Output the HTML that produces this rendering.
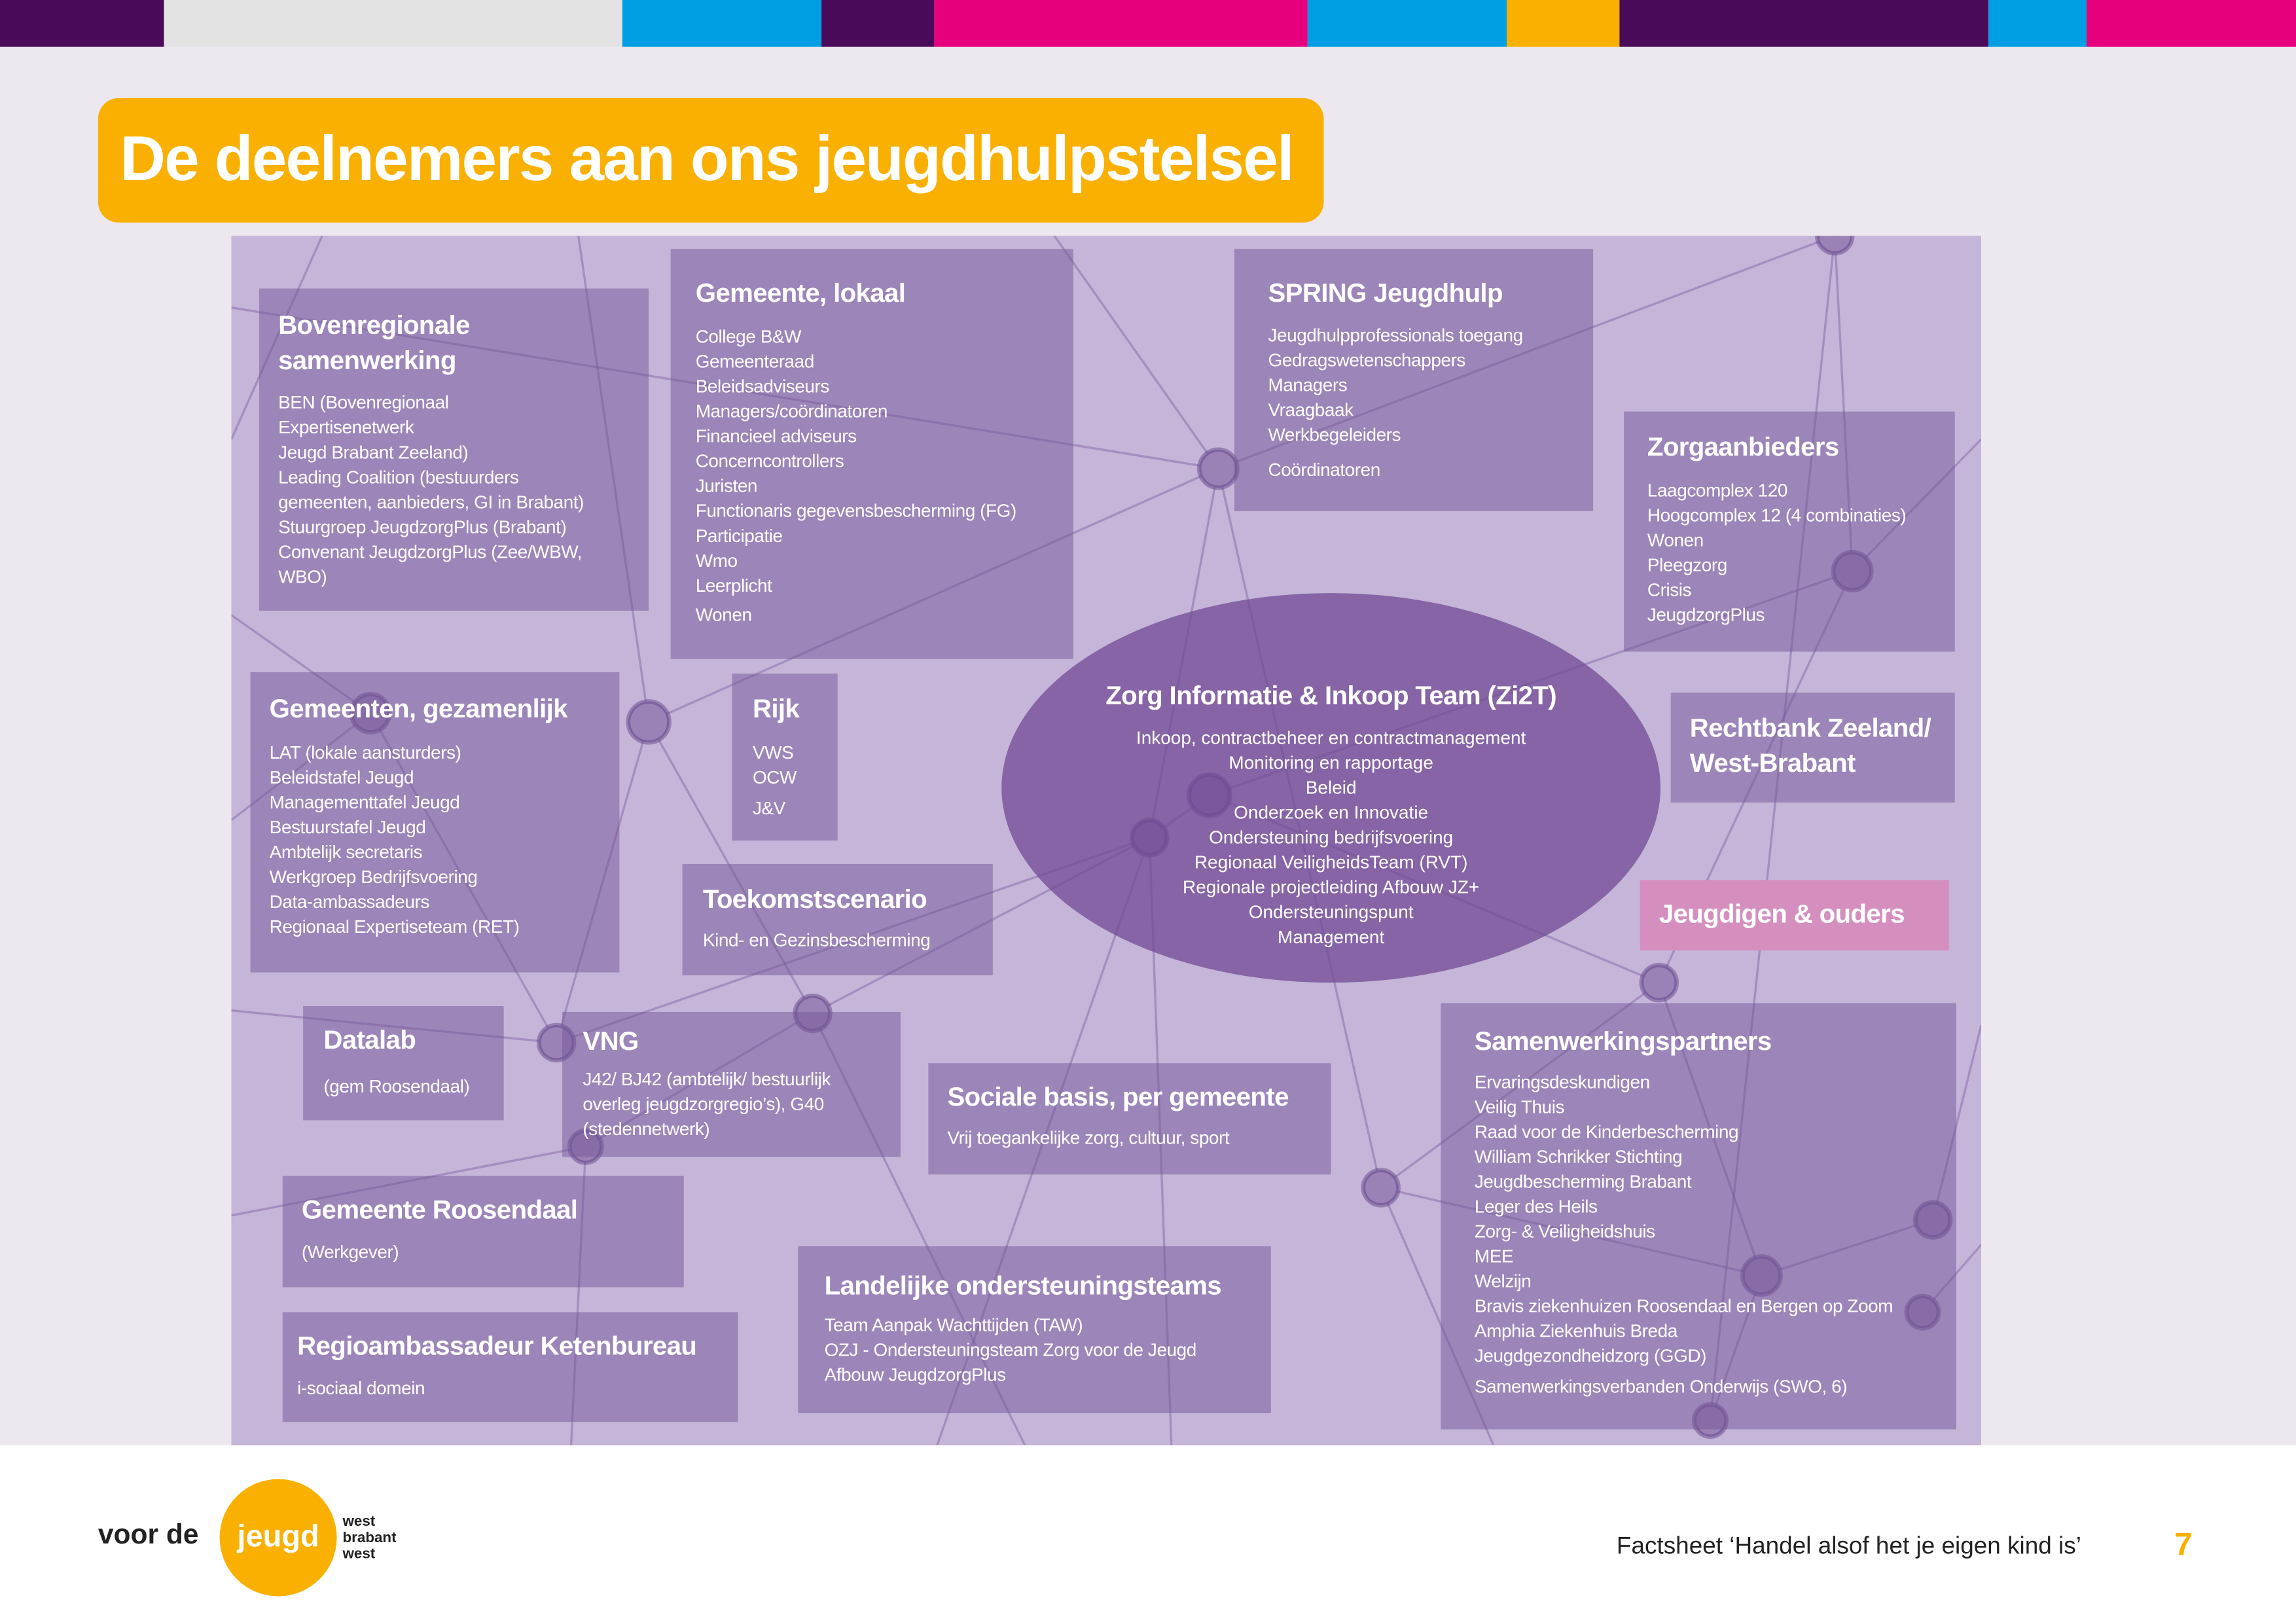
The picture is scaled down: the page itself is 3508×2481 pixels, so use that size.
<!DOCTYPE html>
<html><head><meta charset="utf-8"><style>
html,body{margin:0;padding:0;}
body{width:3508px;height:2481px;overflow:hidden;background:#ede8f0;font-family:"Liberation Sans",sans-serif;}
#w{position:absolute;left:0;top:0;width:1568px;height:1109px;transform:scale(2.23724);transform-origin:0 0;background:#ede8f0;}
.bar{position:absolute;top:0;height:32px;}
.box{position:absolute;background:rgba(115,85,152,0.5);color:#fff;box-sizing:border-box;}
.box h3{margin:0;font-size:18px;font-weight:bold;line-height:24px;letter-spacing:-0.3px;}
.box p{margin:0;font-size:12.5px;line-height:17px;letter-spacing:-0.2px;}
</style></head><body><div id="w">
<div class="bar" style="left:0;width:112px;background:#4a0a5a"></div>
<div class="bar" style="left:112px;width:313px;background:#e3e3e3"></div>
<div class="bar" style="left:425px;width:136px;background:#009fe3"></div>
<div class="bar" style="left:561px;width:77px;background:#4a0a5a"></div>
<div class="bar" style="left:638px;width:255px;background:#e6007e"></div>
<div class="bar" style="left:893px;width:136px;background:#009fe3"></div>
<div class="bar" style="left:1029px;width:77px;background:#f9b000"></div>
<div class="bar" style="left:1106px;width:252px;background:#4a0a5a"></div>
<div class="bar" style="left:1358px;width:67px;background:#009fe3"></div>
<div class="bar" style="left:1425px;width:143px;background:#e6007e"></div>

<div style="position:absolute;left:67px;top:67px;width:837px;height:85px;background:#f9b000;border-radius:14px;color:#fff;font-weight:bold;font-size:43px;line-height:85px;padding-left:15px;box-sizing:border-box;letter-spacing:-0.8px;">De deelnemers aan ons jeugdhulpstelsel</div>

<div style="position:absolute;left:158px;top:161px;width:1195px;height:826px;background:#c5b5d8;overflow:hidden;">
<svg width="1195" height="826" style="position:absolute;left:0;top:0" viewBox="158 161 1195 826">
<g stroke="rgba(110,80,150,0.38)" stroke-width="1.5" fill="none">
<line x1="220" y1="161" x2="158" y2="300"/>
<line x1="395" y1="161" x2="443" y2="493"/>
<line x1="443" y1="493" x2="832" y2="320"/>
<line x1="443" y1="493" x2="380" y2="712"/>
<line x1="443" y1="493" x2="555" y2="692"/>
<line x1="158" y1="420" x2="253" y2="487"/>
<line x1="253" y1="487" x2="158" y2="560"/>
<line x1="253" y1="487" x2="380" y2="712"/>
<line x1="832" y1="320" x2="1253" y2="161"/>
<line x1="832" y1="320" x2="720" y2="161"/>
<line x1="832" y1="320" x2="785" y2="572"/>
<line x1="832" y1="320" x2="943" y2="811"/>
<line x1="785" y1="572" x2="380" y2="712"/>
<line x1="785" y1="572" x2="555" y2="692"/>
<line x1="785" y1="572" x2="826" y2="543"/>
<line x1="826" y1="543" x2="1265" y2="390"/>
<line x1="1265" y1="390" x2="1253" y2="161"/>
<line x1="1265" y1="390" x2="1133" y2="671"/>
<line x1="1265" y1="390" x2="1353" y2="300"/>
<line x1="1133" y1="671" x2="943" y2="811"/>
<line x1="1133" y1="671" x2="826" y2="543"/>
<line x1="1133" y1="671" x2="1203" y2="871"/>
<line x1="1203" y1="871" x2="1320" y2="833"/>
<line x1="1203" y1="871" x2="1168" y2="970"/>
<line x1="943" y1="811" x2="1203" y2="871"/>
<line x1="943" y1="811" x2="1020" y2="987"/>
<line x1="1320" y1="833" x2="1353" y2="700"/>
<line x1="1313" y1="896" x2="1353" y2="850"/>
<line x1="400" y1="783" x2="158" y2="830"/>
<line x1="400" y1="783" x2="555" y2="692"/>
<line x1="400" y1="783" x2="390" y2="987"/>
<line x1="158" y1="690" x2="380" y2="712"/>
<line x1="555" y1="692" x2="700" y2="987"/>
<line x1="785" y1="572" x2="800" y2="987"/>
<line x1="785" y1="572" x2="640" y2="987"/>
<line x1="832" y1="320" x2="158" y2="210"/>
<line x1="1253" y1="161" x2="1168" y2="970"/>
</g>
<g fill="#9a82b6" stroke="rgba(90,60,130,0.45)" stroke-width="3">
<circle cx="832" cy="320" r="13"/>
<circle cx="443" cy="493" r="14"/>
<circle cx="253" cy="487" r="13"/>
<circle cx="1265" cy="390" r="13"/>
<circle cx="1253" cy="161" r="12"/>
<circle cx="826" cy="543" r="14"/>
<circle cx="785" cy="572" r="12"/>
<circle cx="1133" cy="671" r="12"/>
<circle cx="943" cy="811" r="12"/>
<circle cx="555" cy="692" r="12"/>
<circle cx="380" cy="712" r="12"/>
<circle cx="400" cy="783" r="11"/>
<circle cx="1203" cy="871" r="13"/>
<circle cx="1320" cy="833" r="12"/>
<circle cx="1313" cy="896" r="11"/>
<circle cx="1168" cy="970" r="11"/>
</g>
</svg>
</div>

<div style="position:absolute;left:684px;top:405px;width:450px;height:266px;border-radius:50%;background:rgba(112,74,148,0.75);"></div>
<div style="position:absolute;left:684px;top:460px;width:450px;text-align:center;color:#fff;">
<div style="font-size:18px;font-weight:bold;line-height:30px;letter-spacing:-0.3px;">Zorg Informatie &amp; Inkoop Team (Zi2T)</div>
<div style="font-size:12.5px;line-height:17px;margin-top:6px;">Inkoop, contractbeheer en contractmanagement<br>Monitoring en rapportage<br>Beleid<br>Onderzoek en Innovatie<br>Ondersteuning bedrijfsvoering<br>Regionaal VeiligheidsTeam (RVT)<br>Regionale projectleiding Afbouw JZ+<br>Ondersteuningspunt<br>Management</div>
</div>

<div class="box" style="left:177px;top:197px;width:266px;height:220px;padding:13px 13px;"><h3>Bovenregionale<br>samenwerking</h3><p style="margin-top:9px">BEN (Bovenregionaal<br>Expertisenetwerk<br>Jeugd Brabant Zeeland)<br>Leading Coalition (bestuurders<br>gemeenten, aanbieders, GI in Brabant)<br>Stuurgroep JeugdzorgPlus (Brabant)<br>Convenant JeugdzorgPlus (Zee/WBW,<br>WBO)</p></div>

<div class="box" style="left:458px;top:170px;width:275px;height:280px;padding:18px 17px;"><h3>Gemeente, lokaal</h3><p style="margin-top:10px">College B&amp;W<br>Gemeenteraad<br>Beleidsadviseurs<br>Managers/coördinatoren<br>Financieel adviseurs<br>Concerncontrollers<br>Juristen<br>Functionaris gegevensbescherming (FG)<br>Participatie<br>Wmo<br>Leerplicht<br><span style="line-height:23px">Wonen</span></p></div>

<div class="box" style="left:843px;top:170px;width:245px;height:179px;padding:18px 23px;"><h3>SPRING Jeugdhulp</h3><p style="margin-top:9px">Jeugdhulpprofessionals toegang<br>Gedragswetenschappers<br>Managers<br>Vraagbaak<br>Werkbegeleiders<br><span style="display:block;margin-top:7px">Coördinatoren</span></p></div>

<div class="box" style="left:1109px;top:281px;width:226px;height:164px;padding:12px 16px;"><h3>Zorgaanbieders</h3><p style="margin-top:10px">Laagcomplex 120<br>Hoogcomplex 12 (4 combinaties)<br>Wonen<br>Pleegzorg<br>Crisis<br>JeugdzorgPlus</p></div>

<div class="box" style="left:171px;top:459px;width:252px;height:205px;padding:13px 13px;"><h3>Gemeenten, gezamenlijk</h3><p style="margin-top:10px">LAT (lokale aansturders)<br>Beleidstafel Jeugd<br>Managementtafel Jeugd<br>Bestuurstafel Jeugd<br>Ambtelijk secretaris<br>Werkgroep Bedrijfsvoering<br>Data-ambassadeurs<br>Regionaal Expertiseteam (RET)</p></div>

<div class="box" style="left:500px;top:460px;width:72px;height:114px;padding:12px 14px;"><h3>Rijk</h3><p style="margin-top:10px">VWS<br>OCW<br><span style="line-height:24px">J&amp;V</span></p></div>

<div class="box" style="left:466px;top:590px;width:212px;height:76px;padding:12px 14px;"><h3>Toekomstscenario</h3><p style="margin-top:8px">Kind- en Gezinsbescherming</p></div>

<div class="box" style="left:1141px;top:473px;width:194px;height:75px;padding:12px 13px;"><h3>Rechtbank Zeeland/<br>West-Brabant</h3></div>

<div class="box" style="left:1120px;top:601px;width:211px;height:48px;padding:11px 13px;background:#d58fbf;"><h3>Jeugdigen &amp; ouders</h3></div>

<div class="box" style="left:207px;top:687px;width:137px;height:78px;padding:11px 14px;"><h3>Datalab</h3><p style="margin-top:12px">(gem Roosendaal)</p></div>

<div class="box" style="left:384px;top:691px;width:231px;height:99px;padding:8px 14px;"><h3>VNG</h3><p style="margin-top:6px">J42/ BJ42 (ambtelijk/ bestuurlijk<br>overleg jeugdzorgregio’s), G40<br>(stedennetwerk)</p></div>

<div class="box" style="left:634px;top:726px;width:275px;height:76px;padding:11px 13px;"><h3>Sociale basis, per gemeente</h3><p style="margin-top:8px">Vrij toegankelijke zorg, cultuur, sport</p></div>

<div class="box" style="left:193px;top:803px;width:274px;height:76px;padding:11px 13px;"><h3>Gemeente Roosendaal</h3><p style="margin-top:9px">(Werkgever)</p></div>

<div class="box" style="left:193px;top:896px;width:311px;height:75px;padding:11px 10px;"><h3>Regioambassadeur Ketenbureau</h3><p style="margin-top:9px">i-sociaal domein</p></div>

<div class="box" style="left:545px;top:851px;width:323px;height:114px;padding:15px 18px;"><h3>Landelijke ondersteuningsteams</h3><p style="margin-top:7px">Team Aanpak Wachttijden (TAW)<br>OZJ - Ondersteuningsteam Zorg voor de Jeugd<br>Afbouw JeugdzorgPlus</p></div>

<div class="box" style="left:984px;top:685px;width:352px;height:291px;padding:14px 23px;"><h3>Samenwerkingspartners</h3><p style="margin-top:8px">Ervaringsdeskundigen<br>Veilig Thuis<br>Raad voor de Kinderbescherming<br>William Schrikker Stichting<br>Jeugdbescherming Brabant<br>Leger des Heils<br>Zorg- &amp; Veiligheidshuis<br>MEE<br>Welzijn<br>Bravis ziekenhuizen Roosendaal en Bergen op Zoom<br>Amphia Ziekenhuis Breda<br>Jeugdgezondheidzorg (GGD)<br><span style="line-height:24px">Samenwerkingsverbanden Onderwijs (SWO, 6)</span></p></div>

<div style="position:absolute;left:0;top:987px;width:1568px;height:122px;background:#fff;"></div>
<div style="position:absolute;left:67px;top:1038px;font-size:19px;font-weight:bold;color:#222;">voor de</div>
<div style="position:absolute;left:150px;top:1010px;width:80px;height:80px;border-radius:50%;background:#f9b000;color:#fff;font-size:21px;font-weight:bold;text-align:center;line-height:80px;">jeugd</div>
<div style="position:absolute;left:234px;top:1034px;font-size:10px;font-weight:bold;line-height:11px;color:#222;">west<br>brabant<br>west</div>
<div style="position:absolute;left:1104px;top:1047px;font-size:16.5px;color:#222;">Factsheet ‘Handel alsof het je eigen kind is’</div>
<div style="position:absolute;left:1485px;top:1042px;font-size:22px;font-weight:bold;color:#f9b000;">7</div>
</div></body></html>
